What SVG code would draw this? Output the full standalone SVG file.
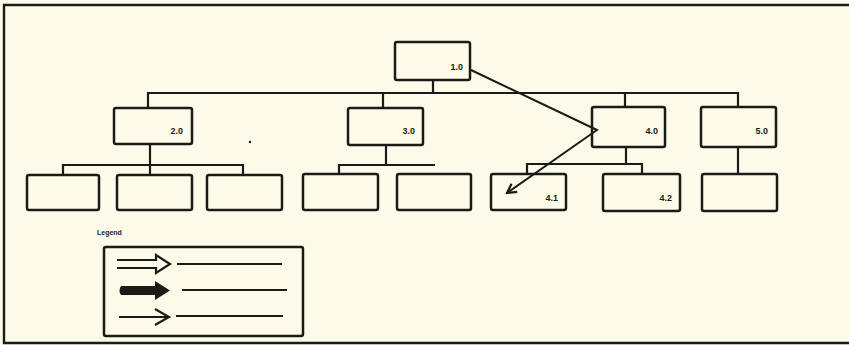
<svg xmlns="http://www.w3.org/2000/svg" width="849" height="345" viewBox="0 0 849 345">
<defs>
<style>
.box{fill:none;stroke:#1c1a17;stroke-width:2.5}
.ln{fill:none;stroke:#1c1a17;stroke-width:2.2}
.thin{fill:none;stroke:#1c1a17;stroke-width:2}
.lbl{font-family:"Liberation Sans",Arial,sans-serif;font-size:9px;font-weight:bold;fill:#1c1a17;text-anchor:end}
</style>
<marker id="vhead" markerWidth="12" markerHeight="12" refX="10" refY="6" orient="auto" markerUnits="userSpaceOnUse">
<path d="M1,1 L10,6 L1,11" fill="none" stroke="#1c1a17" stroke-width="2.2"/>
</marker>
</defs>
<rect x="0" y="0" width="849" height="345" fill="#fcfbea"/>
<path d="M849,5 L4,5 L4,343 L849,343" fill="none" stroke="#1c1a17" stroke-width="2.4"/>
<circle cx="250" cy="142" r="1.2" fill="#1c1a17"/>
<g id="connectors">
<path class="ln" d="M433,80 V93 M148,108 V93 H738 V107 M383,93 V108 M625,93 V107"/>
<path class="ln" d="M150,144 V165 M63,175 V165 H243 V175 M150,165 V175"/>
<path class="ln" d="M386,145 V165 M339,175 V165 H435"/>
<path class="ln" d="M626,147 V164 M527,174 V164 H642 V174"/>
<path class="ln" d="M738,147 V174"/>
<polyline class="thin" points="471,70 597,130 507,193" marker-end="url(#vhead)"/>
</g>
<g id="n1"><rect class="box" x="395" y="42" width="75" height="38" rx="2"/><text class="lbl" x="463" y="70">1.0</text></g>
<g id="n2"><rect class="box" x="114" y="108" width="78" height="36" rx="2"/><text class="lbl" x="183" y="134">2.0</text></g>
<g id="n3"><rect class="box" x="348" y="108" width="75" height="37" rx="2"/><text class="lbl" x="415" y="134">3.0</text></g>
<g id="n4"><rect class="box" x="592" y="107" width="73" height="40" rx="2"/><text class="lbl" x="658" y="134">4.0</text></g>
<g id="n5"><rect class="box" x="701" y="107" width="75" height="40" rx="2"/><text class="lbl" x="768" y="134">5.0</text></g>
<g id="n21"><rect class="box" x="27" y="175" width="72" height="35" rx="2"/></g>
<g id="n22"><rect class="box" x="117" y="175" width="75" height="35" rx="2"/></g>
<g id="n23"><rect class="box" x="207" y="175" width="75" height="35" rx="2"/></g>
<g id="n31"><rect class="box" x="303" y="174" width="75" height="36" rx="2"/></g>
<g id="n32"><rect class="box" x="397" y="174" width="74" height="36" rx="2"/></g>
<g id="n41"><rect class="box" x="491" y="174" width="75" height="36" rx="2"/><text class="lbl" x="558" y="201">4.1</text></g>
<g id="n42"><rect class="box" x="603" y="174" width="77" height="37" rx="2"/><text class="lbl" x="672" y="201">4.2</text></g>
<g id="n51"><rect class="box" x="702" y="174" width="75" height="37" rx="2"/></g>
<g id="legend">
<text x="97" y="235" font-family="'Liberation Sans',Arial,sans-serif" font-size="7" font-weight="bold" fill="#1c1a17">Legend</text>
<rect class="box" x="104" y="247" width="199" height="89" rx="2"/>
<path d="M117,260 H156 V255 L170,264 L156,273 V268 H117" fill="none" stroke="#1c1a17" stroke-width="2.2"/>
<line class="ln" x1="177" y1="264" x2="282" y2="264"/>
<path d="M121,286 H155 V281 L170,290.5 L155,300 V295 H121 Q118,290.5 121,286 Z" fill="#1c1a17"/>
<line class="ln" x1="182" y1="290" x2="287" y2="290"/>
<line class="ln" x1="119" y1="317" x2="168" y2="317"/>
<path d="M155,309 L169,317 L155,325" fill="none" stroke="#1c1a17" stroke-width="2.2"/>
<line class="ln" x1="176" y1="316" x2="283" y2="316"/>
</g>
</svg>
